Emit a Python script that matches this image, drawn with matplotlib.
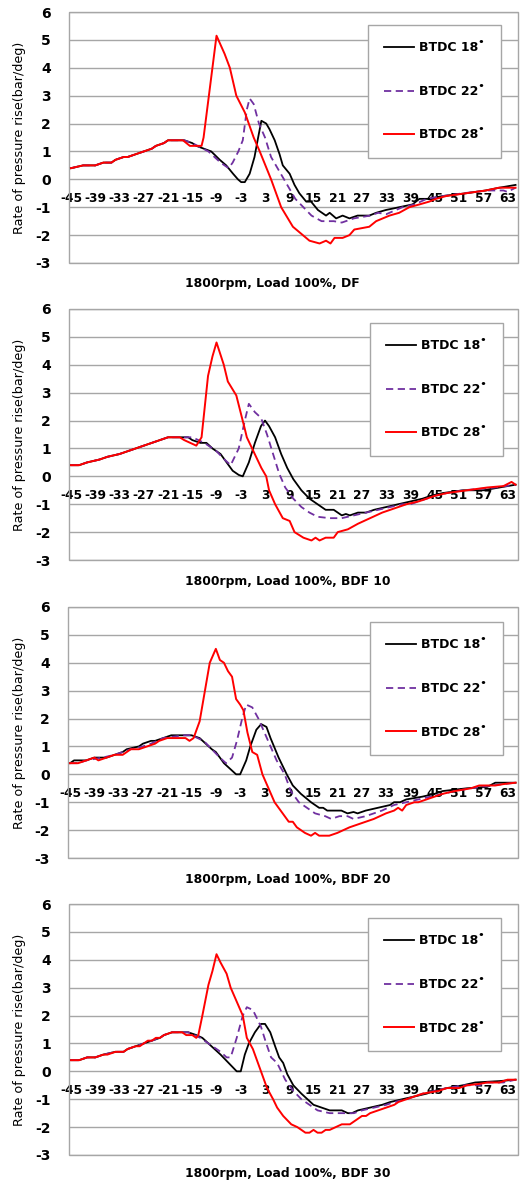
import matplotlib
matplotlib.use("Agg")
import matplotlib.pyplot as plt
from matplotlib.patches import Rectangle

plt.rcParams['font.family'] = ['DejaVu Sans']
plt.rcParams['axes.unicode_minus'] = False

# ---- data: crank angle (deg) and rate of pressure rise (bar/deg) ----
titles = ["1800rpm, Load 100%, DF", "1800rpm, Load 100%, BDF 10",
          "1800rpm, Load 100%, BDF 20", "1800rpm, Load 100%, BDF 30"]
labels = ["BTDC 18˚", "BTDC 22˚", "BTDC 28˚"]
xticks = list(range(-45, 64, 6))
yticks = list(range(-3, 7))

# panel 1 : DF
df_18_x = [-45, -42, -39, -37, -35, -34, -32, -31, -29, -27, -25, -24, -22, -21, -17, -15, -14, -10.3, -8.2, -6.6,
           -4.9, -3.7, -2.9, -2.0, -0.8, 0.4, 1.3, 2.1, 3.3, 4.1, 5.4, 6.6, 7.4, 9.1, 10.3, 11.5, 13.2, 14.4, 16.1,
           18.1, 19, 20.6, 22.2, 23.9, 25.9, 28.8, 30.5, 32.9, 36.2, 39.5, 41.2, 43.6, 46.9, 52.7, 57.6, 61, 65]
df_18_y = [0.4, 0.5, 0.5, 0.6, 0.6, 0.7, 0.8, 0.8, 0.9, 1.0, 1.1, 1.2, 1.3, 1.4, 1.4, 1.3, 1.2, 1.0, 0.7, 0.5,
           0.2, 0.0, -0.1, -0.1, 0.2, 0.8, 1.5, 2.1, 2.0, 1.8, 1.4, 0.9, 0.5, 0.2, -0.2, -0.5, -0.8, -0.8, -1.1,
           -1.3, -1.2, -1.4, -1.3, -1.4, -1.3, -1.3, -1.2, -1.1, -1.0, -0.9, -0.7, -0.7, -0.6, -0.5, -0.4, -0.3, -0.2]
df_22_x = [-45, -42, -39, -37, -35, -34, -32, -31, -29, -27, -25, -24, -22, -21, -17, -15, -11, -8, -6, -5,
           -3.6, -2.5, -1.5, -0.8, 0.2, 1.5, 3.0, 4.5, 6.5, 8.5, 10.5, 12.5, 14.5, 17, 20, 22, 25, 29, 31, 33,
           37, 40, 43, 47, 52, 58, 62, 63, 65]
df_22_y = [0.4, 0.5, 0.5, 0.6, 0.6, 0.7, 0.8, 0.8, 0.9, 1.0, 1.1, 1.2, 1.3, 1.4, 1.4, 1.3, 1.0, 0.6, 0.4, 0.6,
           1.0, 1.4, 2.5, 2.9, 2.7, 2.0, 1.5, 0.8, 0.3, -0.2, -0.7, -1.0, -1.3, -1.5, -1.5, -1.55, -1.4, -1.3, -1.2, -1.25,
           -1.0, -0.9, -0.7, -0.6, -0.5, -0.4, -0.4, -0.45, -0.3]
df_28_x = [-45, -42, -39, -37, -35, -34, -32, -31, -29, -27, -25, -24, -22, -21, -17.3, -15.6, -12.7, -12.2, -9, -7,
           -5.7, -4.1, -2.0, 0.2, 1.7, 4.5, 7.0, 9.9, 14.0, 16.5, 18.1, 19.2, 20.2, 22.2, 23.9, 25.1, 28.8, 30.5,
           33.8, 36.2, 38.7, 41.2, 43.6, 45.3, 47.8, 52.7, 57.6, 60.9, 65]
df_28_y = [0.4, 0.5, 0.5, 0.6, 0.6, 0.7, 0.8, 0.8, 0.9, 1.0, 1.1, 1.2, 1.3, 1.4, 1.4, 1.2, 1.2, 1.5, 5.15, 4.5,
           4.0, 3.0, 2.4, 1.5, 1.0, 0.0, -1.0, -1.7, -2.2, -2.3, -2.2, -2.3, -2.1, -2.1, -2.0, -1.8, -1.7, -1.5,
           -1.3, -1.2, -1.0, -0.9, -0.8, -0.7, -0.6, -0.5, -0.4, -0.3, -0.3]

# panel 2 : BDF 10
b10_18_x = [-45, -43, -41, -38, -36, -33, -31, -29, -27, -25, -23, -21, -19, -16, -15, -13, -11.5, -10, -8, -6.5,
            -5, -3.5, -2.5, -1, 0.5, 2, 3, 4, 5.5, 7, 8.5, 10, 12, 14, 16, 18, 20, 22, 23, 24, 26, 28, 30, 33,
            36, 39, 42, 44, 47, 52, 57, 61, 65]
b10_18_y = [0.4, 0.4, 0.5, 0.6, 0.7, 0.8, 0.9, 1.0, 1.1, 1.2, 1.3, 1.4, 1.4, 1.4, 1.3, 1.2, 1.2, 1.0, 0.8, 0.5,
            0.2, 0.05, 0.0, 0.5, 1.2, 1.8, 2.0, 1.8, 1.4, 0.8, 0.3, -0.1, -0.5, -0.8, -1.0, -1.2, -1.2, -1.4, -1.35, -1.4,
            -1.3, -1.3, -1.2, -1.1, -1.0, -0.9, -0.8, -0.7, -0.6, -0.5, -0.5, -0.4, -0.3]
b10_22_x = [-45, -43, -41, -38, -36, -33, -31, -29, -27, -25, -23, -21, -18, -15, -12, -9, -7, -5.5, -3.5, -2,
            -1, 0.5, 2, 3.5, 5, 6.5, 8, 10, 12, 14, 16, 19, 22, 25, 28, 31, 34, 37, 39, 41, 45, 48, 52, 56, 60, 65]
b10_22_y = [0.4, 0.4, 0.5, 0.6, 0.7, 0.8, 0.9, 1.0, 1.1, 1.2, 1.3, 1.4, 1.4, 1.4, 1.2, 0.9, 0.6, 0.4, 1.0, 2.0,
            2.6, 2.3, 2.1, 1.5, 0.8, 0.1, -0.4, -0.8, -1.1, -1.3, -1.45, -1.5, -1.5, -1.4, -1.3, -1.2, -1.1, -1.0, -1.0,
            -0.9, -0.7, -0.6, -0.5, -0.45, -0.4, -0.3]
b10_28_x = [-45, -43, -41, -38, -36, -33, -31, -29, -27, -25, -23, -21, -18.1, -17, -14, -12.7, -11.1, -10, -9, -7.2,
            -6.2, -4.1, -2.0, -1.5, 2.1, 3.3, 4, 5.5, 7.4, 9.1, 10.3, 12.5, 14.5, 15.5, 16.5, 18, 20, 21, 23.5, 26,
            29, 32, 34, 36, 38, 41, 43, 45, 48, 53, 58, 62, 64, 65]
b10_28_y = [0.4, 0.4, 0.5, 0.6, 0.7, 0.8, 0.9, 1.0, 1.1, 1.2, 1.3, 1.4, 1.4, 1.3, 1.1, 1.4, 3.6, 4.3, 4.8, 4.0,
            3.4, 2.9, 1.7, 1.4, 0.3, 0.0, -0.5, -1.0, -1.5, -1.6, -2.0, -2.2, -2.3, -2.2, -2.3, -2.2, -2.2, -2.0, -1.9, -1.7,
            -1.5, -1.3, -1.2, -1.1, -1.0, -0.9, -0.8, -0.7, -0.6, -0.5, -0.4, -0.35, -0.2, -0.3]

# panel 3 : BDF 20
b20_18_x = [-45, -44, -41, -39, -36, -34, -32, -31, -28, -27, -25, -24, -22, -20, -15, -13, -11.5, -10, -9, -7,
            -5.5, -4, -3, -1.5, -0.5, 1, 2.2, 3.5, 4.5, 6.5, 8.5, 10, 12, 14.5, 16.5, 17.5, 18.5, 22, 23.5, 25,
            26, 28, 31, 34, 35, 36.5, 38, 42, 45, 47, 53, 58, 60, 65]
b20_18_y = [0.4, 0.5, 0.5, 0.6, 0.6, 0.7, 0.8, 0.9, 1.0, 1.1, 1.2, 1.2, 1.3, 1.4, 1.4, 1.3, 1.1, 0.9, 0.8, 0.4,
            0.2, 0.0, 0.0, 0.5, 1.0, 1.6, 1.8, 1.7, 1.3, 0.6, 0.0, -0.4, -0.7, -1.0, -1.2, -1.2, -1.3, -1.3, -1.4, -1.35,
            -1.4, -1.3, -1.2, -1.1, -1.0, -1.0, -0.9, -0.8, -0.7, -0.6, -0.5, -0.45, -0.3, -0.3]
b20_22_x = [-45, -43, -41, -37, -34, -32, -30, -27, -25, -22, -17, -15, -12, -10, -8, -6.5, -5, -3.8, -2.5, -1.5,
            0, 1.5, 3, 4.5, 6, 8, 9.5, 11.5, 13.5, 15.5, 18, 19.5, 21.5, 23.5, 25, 28, 30, 32, 35, 38, 41, 44,
            47, 50, 54, 59, 65]
b20_22_y = [0.4, 0.4, 0.5, 0.6, 0.7, 0.8, 0.9, 1.0, 1.1, 1.3, 1.4, 1.4, 1.2, 0.9, 0.6, 0.4, 0.6, 1.2, 2.0, 2.5,
            2.4, 2.0, 1.5, 1.0, 0.5, 0.0, -0.6, -1.0, -1.2, -1.4, -1.5, -1.6, -1.5, -1.5, -1.6, -1.5, -1.4, -1.3, -1.1,
            -1.0, -0.9, -0.8, -0.7, -0.6, -0.5, -0.4, -0.3]
b20_28_x = [-45, -43, -41, -39, -38, -36, -34, -32, -30, -28, -26, -24, -23, -21, -18, -16.5, -15.5, -14.5, -13, -10.5,
            -9, -8, -7, -6, -5, -4, -3, -2.2, -1.2, 0, 1.2, 2.5, 4, 5.5, 7.5, 9, 10, 11, 13, 14.5,
            15.5, 16.5, 19, 21, 22.5, 24, 26, 28, 30, 33, 35, 36, 37, 38, 40, 41, 43, 45, 47, 50,
            54, 56, 60, 62, 65]
b20_28_y = [0.4, 0.4, 0.5, 0.6, 0.5, 0.6, 0.7, 0.7, 0.9, 0.9, 1.0, 1.1, 1.2, 1.3, 1.3, 1.3, 1.2, 1.3, 1.9, 4.0,
            4.5, 4.1, 4.0, 3.7, 3.5, 2.7, 2.5, 2.3, 1.5, 0.8, 0.7, 0.0, -0.5, -1.0, -1.4, -1.7, -1.7, -1.9, -2.1, -2.2,
            -2.1, -2.2, -2.2, -2.1, -2.0, -1.9, -1.8, -1.7, -1.6, -1.4, -1.3, -1.2, -1.3, -1.1, -1.0, -1.0, -0.9, -0.8,
            -0.7, -0.6, -0.5, -0.4, -0.4, -0.35, -0.3]

# panel 4 : BDF 30
b30_18_x = [-45, -43, -41, -39, -37, -34, -32, -31, -29, -27, -25, -23, -22, -20, -16, -14, -12.5, -11, -9.5, -8,
            -6, -5, -4, -3, -2, -1, 0.5, 2, 3, 4.3, 5.5, 6.5, 7.5, 8.5, 10, 12, 13.5, 15, 17, 19, 22, 23.5,
            24.5, 26, 29, 32, 34, 37, 40, 43, 45, 48, 52, 55, 61, 65]
b30_18_y = [0.4, 0.4, 0.5, 0.5, 0.6, 0.7, 0.7, 0.8, 0.9, 1.0, 1.1, 1.2, 1.3, 1.4, 1.4, 1.3, 1.2, 1.0, 0.8, 0.6,
            0.3, 0.15, 0.0, 0.0, 0.6, 1.0, 1.4, 1.7, 1.7, 1.4, 0.9, 0.5, 0.3, -0.1, -0.5, -0.8, -1.0, -1.2, -1.3, -1.4,
            -1.4, -1.5, -1.5, -1.4, -1.3, -1.2, -1.1, -1.0, -0.9, -0.8, -0.7, -0.6, -0.5, -0.4, -0.35, -0.3]
b30_22_x = [-45, -43, -41, -39, -37, -34, -32, -31, -29, -27, -25, -23, -22, -20, -16, -13, -10, -8, -6.5, -5.5,
            -4, -2.5, -1.5, 0, 2, 3.3, 4.5, 6, 8, 10, 12, 14, 16, 19, 22, 25, 27, 30, 33, 35, 38, 42, 45,
            48, 52, 56, 58, 62, 65]
b30_22_y = [0.4, 0.4, 0.5, 0.5, 0.6, 0.7, 0.7, 0.8, 0.9, 1.0, 1.1, 1.2, 1.3, 1.4, 1.4, 1.2, 0.9, 0.7, 0.5, 0.5,
            1.2, 2.0, 2.3, 2.2, 1.6, 1.0, 0.5, 0.3, -0.3, -0.7, -1.0, -1.2, -1.4, -1.5, -1.5, -1.5, -1.4, -1.3, -1.2,
            -1.1, -1.0, -0.8, -0.7, -0.6, -0.5, -0.5, -0.4, -0.4, -0.3]
b30_28_x = [-45, -43, -41, -39, -37, -36, -34, -32, -31, -29, -28, -27, -26, -25, -24, -23, -22, -20, -17.5, -16.5,
            -15, -14, -13.5, -12.5, -11, -10, -9, -8, -6.5, -5.5, -4, -2.5, -1.5, 0, 2, 3.5, 5, 6, 7.5, 9.5,
            11, 13, 14, 15, 16, 17, 18, 19, 20.5, 22, 24, 25, 27, 28, 29, 31, 33, 35, 36, 38,
            40, 42, 46, 48, 51, 53, 56, 58, 61, 63, 65]
b30_28_y = [0.4, 0.4, 0.5, 0.5, 0.6, 0.6, 0.7, 0.7, 0.8, 0.9, 0.9, 1.0, 1.1, 1.1, 1.2, 1.2, 1.3, 1.4, 1.4, 1.3,
            1.3, 1.2, 1.3, 2.0, 3.1, 3.6, 4.2, 3.9, 3.5, 3.0, 2.5, 2.0, 1.2, 0.8, 0.0, -0.6, -1.0, -1.3, -1.6, -1.9,
            -2.0, -2.2, -2.2, -2.1, -2.2, -2.2, -2.1, -2.1, -2.0, -1.9, -1.9, -1.8, -1.6, -1.6, -1.5, -1.4, -1.3, -1.2,
            -1.1, -1.0, -0.9, -0.8, -0.7, -0.6, -0.6, -0.5, -0.45, -0.4, -0.4, -0.3, -0.3]

panels = [
    [(df_18_x, df_18_y), (df_22_x, df_22_y), (df_28_x, df_28_y)],
    [(b10_18_x, b10_18_y), (b10_22_x, b10_22_y), (b10_28_x, b10_28_y)],
    [(b20_18_x, b20_18_y), (b20_22_x, b20_22_y), (b20_28_x, b20_28_y)],
    [(b30_18_x, b30_18_y), (b30_22_x, b30_22_y), (b30_28_x, b30_28_y)],
]

# ---- styling ----
W, H = 525, 1183
colors = ['#000000', '#7030A0', '#FF0000']
styles = ['-', (0, (4, 2.5)), '-']
widths = [1.3, 1.3, 1.4]
grid_col = '#A6A6A6'

# axes boxes in pixels: left, top, right, bottom
boxes = [(69, 12, 518, 263), (69, 309, 518, 560), (68, 607, 518, 858), (69, 904, 518, 1155)]
title_y = [283, 582, 879, 1173]
legend_anchor = [(501, 25), (503, 323), (503, 622), (501, 918)]

fig = plt.figure(figsize=(W / 100, H / 100), dpi=100)
fig.patch.set_facecolor('white')

for i, (l, t, r, b) in enumerate(boxes):
    ax = fig.add_axes([l / W, 1 - b / H, (r - l) / W, (b - t) / H])
    for (xs, ys), c, ls, lw, lab in zip(panels[i], colors, styles, widths, labels):
        ax.plot(xs, ys, color=c, linestyle=ls, linewidth=lw, label=lab, zorder=3)

    ax.set_xlim(-45.5, 65.6)
    ax.set_ylim(-3, 6)
    ax.set_yticks(yticks)
    ax.set_xticks(xticks)
    ax.yaxis.grid(True, color=grid_col, linewidth=1.0)
    ax.set_axisbelow(True)

    # x tick labels sit just below the y=0 line
    ax.spines['bottom'].set_position(('data', 0))
    for s in ax.spines.values():
        s.set_visible(False)
    ax.add_patch(Rectangle((0, 0), 1, 1, transform=ax.transAxes, fill=False,
                           edgecolor=grid_col, linewidth=1.0, clip_on=False, zorder=1))
    ax.tick_params(axis='x', length=0, pad=9, labelsize=8.8)
    ax.tick_params(axis='y', length=0, pad=13, labelsize=10)
    for tl in ax.get_xticklabels() + ax.get_yticklabels():
        tl.set_fontweight('bold')

    lx, ly = legend_anchor[i]
    leg = ax.legend(loc='upper right',
                    bbox_to_anchor=((lx - l) / (r - l), (b - ly) / (b - t)),
                    frameon=True, fancybox=False, framealpha=1, edgecolor=grid_col,
                    prop={'weight': 'bold', 'size': 9}, borderpad=1.3, labelspacing=2.45,
                    handlelength=2.4, handletextpad=0.4, borderaxespad=0)
    leg.get_frame().set_linewidth(1.0)

    fig.text(185 / W, 1 - title_y[i] / H, titles[i], ha='left', va='center',
             fontsize=8.9, fontweight='bold')
    fig.text(20 / W, 1 - (t + b) / 2 / H, "Rate of pressure rise(bar/deg)",
             rotation=90, ha='center', va='center', fontsize=9.2)

fig.savefig('out.png', dpi=100, facecolor='white')
